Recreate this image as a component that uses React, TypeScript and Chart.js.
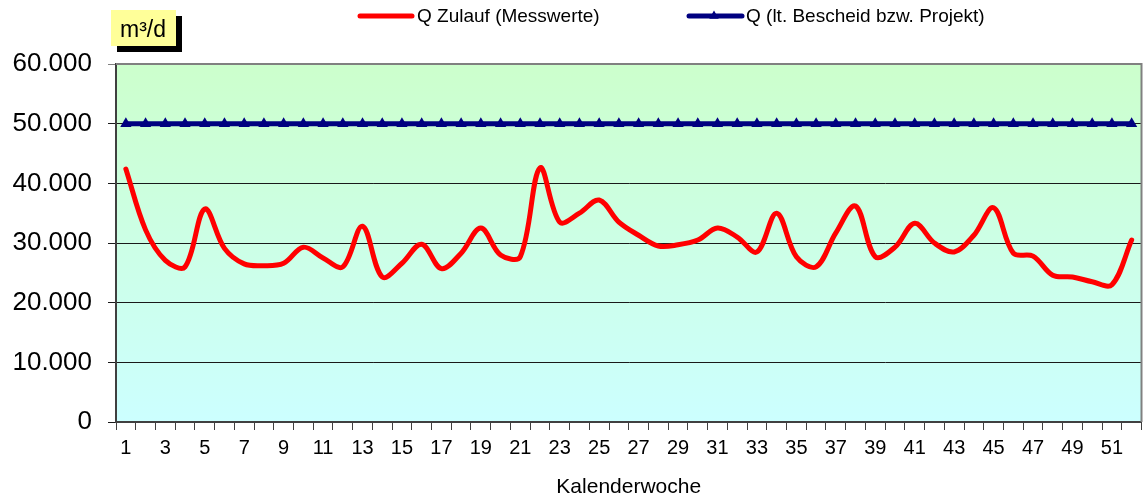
import React, { useEffect, useRef } from "react";
import { Chart, registerables } from "chart.js";

Chart.register(...registerables);

const weeks = [
  "1", "2", "3", "4", "5", "6", "7", "8", "9", "10", "11", "12", "13",
  "14", "15", "16", "17", "18", "19", "20", "21", "22", "23", "24", "25", "26",
  "27", "28", "29", "30", "31", "32", "33", "34", "35", "36", "37", "38", "39",
  "40", "41", "42", "43", "44", "45", "46", "47", "48", "49", "50", "51", "52",
];

const zulauf = [
  42400, 32200, 27100, 26000, 35700, 29100, 26500, 26200, 26600, 29300, 27500, 26000, 32800,
  24300, 26600, 29800, 25700, 28300, 32500, 28000, 27700, 42600, 33500, 35000, 37200, 33500,
  31300, 29500, 29700, 30500, 32500, 31000, 28500, 35000, 27700, 26000, 31700, 36200, 27700,
  29300, 33300, 30000, 28500, 31300, 35900, 28300, 27800, 24600, 24300, 23500, 23000, 30500,
];

const bescheid = [
  50000, 50000, 50000, 50000, 50000, 50000, 50000, 50000, 50000, 50000, 50000, 50000, 50000,
  50000, 50000, 50000, 50000, 50000, 50000, 50000, 50000, 50000, 50000, 50000, 50000, 50000,
  50000, 50000, 50000, 50000, 50000, 50000, 50000, 50000, 50000, 50000, 50000, 50000, 50000,
  50000, 50000, 50000, 50000, 50000, 50000, 50000, 50000, 50000, 50000, 50000, 50000, 50000,
];

const seriesNames = ["Q Zulauf (Messwerte)", "Q (lt. Bescheid bzw. Projekt)"];
const yUnit = "m³/d";
const xTitle = "Kalenderwoche";
const yMin = 0;
const yMax = 60000;
const yStep = 10000;

const FONT = "'Liberation Sans', Arial, sans-serif";
const RED = "#FF0000";
const NAVY = "#000080";

function fmt(v: number): string {
  return String(Math.round(v)).replace(/\B(?=(\d{3})+(?!\d))/g, ".");
}

function triangle(ctx: CanvasRenderingContext2D, x: number, y: number, r: number) {
  ctx.beginPath();
  ctx.moveTo(x, y - r);
  ctx.lineTo(x + r * 0.866, y + r * 0.5);
  ctx.lineTo(x - r * 0.866, y + r * 0.5);
  ctx.closePath();
  ctx.fill();
}

const decor = {
  id: "decor",
  beforeDraw(chart: any) {
    const { ctx, chartArea: a } = chart;
    const g = ctx.createLinearGradient(0, a.top, 0, a.bottom);
    g.addColorStop(0, "#CCFFCC");
    g.addColorStop(1, "#CCFFFF");
    ctx.save();
    ctx.fillStyle = g;
    ctx.fillRect(a.left, a.top, a.right - a.left, a.bottom - a.top);
    ctx.restore();
  },
  afterDraw(chart: any) {
    const { ctx, chartArea: a } = chart;
    ctx.save();
    // top & right plot border
    ctx.strokeStyle = "#808080";
    ctx.lineWidth = 2;
    ctx.beginPath();
    ctx.moveTo(a.left, a.top);
    ctx.lineTo(a.right, a.top);
    ctx.lineTo(a.right, a.bottom);
    ctx.stroke();

    // unit label box with shadow
    ctx.fillStyle = "#000000";
    ctx.fillRect(117, 16, 65, 36);
    ctx.fillStyle = "#FFFF99";
    ctx.fillRect(111, 10, 65, 36);
    ctx.fillStyle = "#000000";
    ctx.font = `23px ${FONT}`;
    ctx.textAlign = "center";
    ctx.textBaseline = "alphabetic";
    ctx.fillText(yUnit, 143, 37);

    // legend
    ctx.font = `19px ${FONT}`;
    ctx.textAlign = "left";
    ctx.textBaseline = "middle";
    ctx.lineCap = "round";
    ctx.lineWidth = 5;
    ctx.strokeStyle = RED;
    ctx.beginPath();
    ctx.moveTo(360, 16);
    ctx.lineTo(412, 16);
    ctx.stroke();
    ctx.fillStyle = "#000";
    ctx.fillText(seriesNames[0], 417, 17);

    ctx.strokeStyle = NAVY;
    ctx.beginPath();
    ctx.moveTo(689, 16);
    ctx.lineTo(742, 16);
    ctx.stroke();
    ctx.fillStyle = NAVY;
    triangle(ctx, 714, 16, 5.5);
    ctx.fillStyle = "#000";
    ctx.fillText(seriesNames[1], 746, 17);
    ctx.restore();
  },
};

export default function App() {
  const ref = useRef<HTMLCanvasElement | null>(null);

  useEffect(() => {
    if (!ref.current) return;
    const chart = new Chart(ref.current, {
      type: "line",
      data: {
        labels: weeks,
        datasets: [
          {
            label: seriesNames[0],
            data: zulauf,
            borderColor: RED,
            backgroundColor: RED,
            borderWidth: 5,
            pointRadius: 0,
            tension: 0.35,
            borderCapStyle: "round",
            borderJoinStyle: "round",
            order: 2,
          },
          {
            label: seriesNames[1],
            data: bescheid,
            borderColor: NAVY,
            backgroundColor: NAVY,
            borderWidth: 5,
            pointStyle: "triangle",
            pointRadius: 6.5,
            pointBorderWidth: 0,
            pointBackgroundColor: NAVY,
            tension: 0,
            order: 1,
          },
        ],
      },
      options: {
        responsive: false,
        animation: false,
        devicePixelRatio: 1,
        layout: { padding: { top: 64, left: 0, right: 4, bottom: 0 } },
        plugins: {
          legend: { display: false },
          tooltip: { enabled: false },
        },
        scales: {
          x: {
            type: "category",
            offset: true,
            grid: {
              offset: true,
              drawOnChartArea: false,
              drawTicks: true,
              tickLength: 8,
              color: "#404040",
              lineWidth: 1,
            },
            border: { display: true, color: "#404040", width: 2 },
            ticks: {
              autoSkip: false,
              maxRotation: 0,
              minRotation: 0,
              padding: 6,
              color: "#000",
              font: { family: FONT, size: 20 },
              callback: (_v: any, i: number) => (i % 2 === 0 ? weeks[i] : ""),
            },
            title: {
              display: true,
              text: xTitle,
              color: "#000",
              font: { family: FONT, size: 21 },
              padding: { top: 0, bottom: 1 },
            },
            afterFit: (s: any) => {
              s.height = 79;
            },
          },
          y: {
            min: yMin,
            max: yMax,
            grid: {
              drawOnChartArea: true,
              drawTicks: true,
              tickLength: 8,
              color: (c: any) => (c.tick && c.tick.value === yMax ? "#808080" : "#1a1a1a"),
              lineWidth: 1,
            },
            border: { display: true, color: "#404040", width: 2 },
            ticks: {
              stepSize: yStep,
              padding: 16,
              color: "#000",
              font: { family: FONT, size: 26 },
              callback: (v: any) => fmt(Number(v)),
            },
            afterFit: (s: any) => {
              s.width = 116;
            },
          },
        },
      },
      plugins: [decor],
    } as any);
    return () => chart.destroy();
  }, []);

  return (
    <div style={{ position: "fixed", left: 0, top: 0, width: 1148, height: 501, background: "#fff" }}>
      <canvas ref={ref} width={1148} height={501} style={{ width: 1148, height: 501, display: "block" }} />
    </div>
  );
}
